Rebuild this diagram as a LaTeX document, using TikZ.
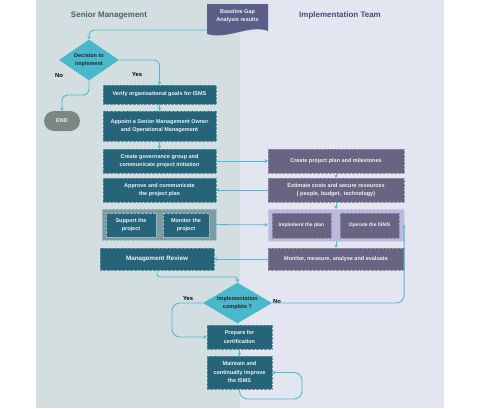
\documentclass[tikz,border=0pt]{standalone}
\usepackage{fontspec}
\setmainfont{Liberation Sans}
\usetikzlibrary{shapes.geometric,arrows.meta}
\definecolor{laneL}{HTML}{D2DEE0}
\definecolor{laneR}{HTML}{E3E5F1}
\definecolor{tealbox}{HTML}{266479}
\definecolor{purpbox}{HTML}{6A6483}
\definecolor{arrc}{HTML}{4EBCD3}
\definecolor{diamc}{HTML}{4AB8CB}
\definecolor{endc}{HTML}{7C8784}
\definecolor{sgrp}{HTML}{7C9CA6}
\definecolor{igrp}{HTML}{B9BADD}
\definecolor{titL}{HTML}{46626D}
\definecolor{titR}{HTML}{474C78}
\definecolor{docc}{HTML}{5B5F87}
\definecolor{boxtxt}{HTML}{EEF3F5}
\tikzset{
  txt/.style={font=\bfseries\fontsize{5.5}{8.5}\selectfont, text=boxtxt, align=center, inner sep=0pt},
  tbox/.style={txt, rectangle, fill=tealbox, draw=#1, densely dotted, line width=0.35pt},
  tbox/.default={tealbox!72!white},
  pbox/.style={txt, rectangle, fill=purpbox, draw=purpbox!72!white, densely dotted, line width=0.35pt},
  dia/.style={diamond, aspect=1.5, fill=diamc, inner sep=0pt, font=\bfseries\fontsize{5.5}{8.5}\selectfont, text=black!85, align=center},
  lbl/.style={font=\bfseries\fontsize{5.8}{7}\selectfont, text=black, inner sep=0pt},
  ttl/.style={font=\bfseries\fontsize{8}{9}\selectfont, inner sep=0pt},
  arr/.style={draw=arrc, line width=0.9pt, -{Stealth[length=3.2pt,width=3.6pt]}},
}
\begin{document}
\begin{tikzpicture}[x=1pt,y=-1pt]
\useasboundingbox (0,0) rectangle (480,408);
% lanes
\fill[laneL] (36,0) rectangle (240,408);
\fill[laneR] (240,0) rectangle (444,408);
\node[ttl, text=titL] (tl) at (109,15) {Senior Management};
\node[ttl, text=titR] (tr) at (340,15) {Implementation Team};
% document shape
\draw[fill=docc, draw=docc!60!white, densely dotted, line width=0.35pt]
  (207,4) -- (268,4) -- (268,31) .. controls (250,24) and (228,40) .. (207,34) -- cycle;
\node[txt] (doc) at (237.5,16) {Baseline Gap\\Analysis results};
\coordinate (docout) at (207,30);
% left lane
\node[dia, minimum width=60pt, minimum height=41pt] (dec1) at (89,60) {Decision to\\implement};
\node[txt, fill=endc, rounded corners=10pt, minimum width=36pt, minimum height=20pt] (endn) at (62,121) {END};
\node[tbox, minimum width=113pt, minimum height=19pt] (verify) at (159.5,94.5) {Verify organisational goals for ISMS};
\node[tbox, minimum width=113pt, minimum height=30pt] (appoint) at (159.5,126) {Appoint a Senior Management Owner\\and Operational Management};
\node[tbox, minimum width=113pt, minimum height=24pt] (govern) at (159.5,161) {Create governance group and\\communicate project initiation};
\node[tbox, minimum width=113pt, minimum height=24pt] (approve) at (159.5,190) {Approve and communicate\\the project plan};
\node[fill=sgrp, draw=sgrp!70!white, densely dotted, line width=0.35pt, minimum width=114pt, minimum height=31pt, inner sep=0pt] (sgroup) at (159,224.5) {};
\node[tbox=sgrp!70!white, minimum width=50pt, minimum height=24pt] (support) at (131,225) {Support the\\project};
\node[tbox=sgrp!70!white, minimum width=46pt, minimum height=24pt] (monitor) at (186,225) {Monitor the\\project};
\node[tbox, minimum width=114pt, minimum height=22pt] (review) at (157,259) {\fontsize{6.3}{8}\selectfont Management Review};
% right lane
\node[pbox, minimum width=136pt, minimum height=24pt] (plan) at (336,161) {Create project plan and milestones};
\node[pbox, minimum width=136pt, minimum height=24pt] (estimate) at (336,190) {Estimate costs and secure resources\\( people, budget,\ \ technology)};
\node[fill=igrp, draw=igrp!70!white, densely dotted, line width=0.35pt, minimum width=136pt, minimum height=32pt, inner sep=0pt] (igroup) at (336,225) {};
\node[pbox, minimum width=59pt, minimum height=25pt] (implement) at (301.5,225.5) {\fontsize{5}{7}\selectfont Implement the plan};
\node[pbox, minimum width=59pt, minimum height=25pt] (operate) at (369.5,225.5) {\fontsize{5}{7}\selectfont Operate the ISMS};
\node[pbox, minimum width=136pt, minimum height=22pt] (measure) at (336,259) {Monitor, measure, analyse and evaluate};
% bottom
\node[dia, minimum width=69pt, minimum height=40pt] (dec2) at (237.5,303) {Implementation\\complete ?};
\node[tbox, minimum width=65pt, minimum height=24pt] (prepare) at (239.5,337) {Prepare for\\certification};
\node[tbox, minimum width=65pt, minimum height=33pt] (maintain) at (239.5,372.5) {Maintain and\\continually improve\\the ISMS};
% labels
\node[lbl] (no1) at (59,76) {No};
\node[lbl] (yes1) at (137,75) {Yes};
\node[lbl] (yes2) at (188,299) {Yes};
\node[lbl] (no2) at (277,302) {No};
% connectors
\draw[arr, rounded corners=5pt] (docout) -| (dec1.north);
\draw[arr, rounded corners=5pt] (dec1.east) -| (verify.north);
\draw[arr, rounded corners=6pt] (dec1.south) -- (dec1.south |- 0,95) -- (endn.north |- 0,95) -- (endn.north);
\draw[arr] (verify) -- (appoint);
\draw[arr] (appoint) -- (govern);
\draw[arr] (govern) -- (plan);
\draw[arr] (plan) -- (estimate);
\draw[arr] (estimate) -- (approve);
\draw[arr] (estimate) -- (igroup);
\draw[arr] (sgroup) -- (igroup);
\draw[arr] (igroup) -- (measure);
\draw[arr] (measure) -- (review);
\draw[arr, rounded corners=3pt] (review.south) -- (review.south |- 0,277) -- (dec2.north |- 0,277) -- (dec2.north);
\draw[arr, rounded corners=8pt] (dec2.east) -- (igroup.east |- dec2.east) -- (igroup.east);
\draw[arr, rounded corners=8pt] (dec2.west) -- (172,303) -- (172,337) -- (prepare.west);
\draw[arr] (prepare) -- (maintain);
\coordinate (loopc) at (302,399);
\draw[arr, rounded corners=8pt] (maintain.south) -- (maintain.south |- loopc) -- (loopc) -- (loopc |- maintain.east) -- (maintain.east);
\end{tikzpicture}
\end{document}
